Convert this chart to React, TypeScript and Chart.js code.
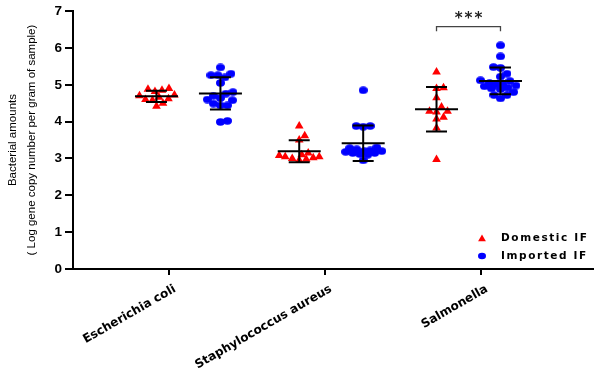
import { useEffect, useRef } from "react";
import { Chart, registerables } from "chart.js";

Chart.register(...registerables);

// ---------------- data ----------------
const categories = ["Escherichia coli", "Staphylococcus aureus", "Salmonella"];
const seriesNames = ["Domestic IF", "Imported IF"];

const domesticEcoli = [4.9, 4.88, 4.85, 4.82, 4.72, 4.7, 4.66, 4.62, 4.6, 4.58, 4.5, 4.42];
const importedEcoli = [5.47, 5.3, 5.26, 5.26, 5.2, 5.05, 4.8, 4.76, 4.7, 4.64, 4.6, 4.58, 4.49, 4.44, 4.44, 4.02, 3.99];

const domesticSaureus = [3.88, 3.62, 3.5, 3.15, 3.1, 3.08, 3.05, 3.05, 3.02, 3.0, 2.98, 2.95];
const importedSaureus = [4.85, 3.88, 3.88, 3.86, 3.3, 3.28, 3.25, 3.22, 3.2, 3.2, 3.18, 3.15, 3.15, 3.12, 3.1, 2.95];

const domesticSalmonella = [5.35, 4.92, 4.9, 4.65, 4.4, 4.28, 4.28, 4.26, 4.12, 4.07, 3.83, 2.97];
const importedSalmonella = [6.07, 5.77, 5.48, 5.46, 5.3, 5.22, 5.12, 5.1, 5.05, 5.02, 5.0, 4.98, 4.96, 4.92, 4.9, 4.88, 4.8, 4.72, 4.72, 4.63];

const domesticValues = [domesticEcoli, domesticSaureus, domesticSalmonella];
const importedValues = [importedEcoli, importedSaureus, importedSalmonella];

const yTicks = [0, 1, 2, 3, 4, 5, 6, 7];
const yTitle = ["Bacterial amounts", "( Log gene copy number per gram of sample)"];
const significanceLabel = "***";
const significantCategory = 2;

// ---------------- layout constants ----------------
const categoryShift = [0.125, 0.04, -0.08];
const seriesOffset = 0.205;
const pxPerX = 156; // approx pixels per x unit (for swarm spacing only)
const pxPerY = 36.9; // approx pixels per y unit (for swarm spacing only)
const swarmDiameter = 7; // px
const swarmMaxSpread = 20; // px
const bracketLevel = 6.58;
const bracketLeg = 0.13;
const starsLevel = 6.86;

const RED = "rgb(255,0,0)";
const BLUE = "rgb(0,0,255)";

function mean(a: number[]) {
  return a.reduce((s, v) => s + v, 0) / a.length;
}
function stdev(a: number[]) {
  const m = mean(a);
  return Math.sqrt(a.reduce((s, v) => s + (v - m) * (v - m), 0) / (a.length - 1));
}

// beeswarm: returns x offsets (in x units) so markers overlap as little as possible
function swarm(values: number[]): number[] {
  const idx = values.map((_, i) => i).sort((a, b) => values[a] - values[b]);
  const placed: { px: number; py: number }[] = [];
  const offsets = new Array(values.length).fill(0);
  for (const k of idx) {
    const py = values[k] * pxPerY;
    let chosen: number | null = null;
    let best = 0;
    let bestDist = -1;
    for (let step = 0; ; step++) {
      const mag = Math.ceil(step / 2) * 0.5;
      if (mag > swarmMaxSpread) break;
      const cand = step % 2 === 1 ? mag : -mag;
      let minD = Infinity;
      for (const p of placed) {
        const dx = p.px - cand;
        const dy = p.py - py;
        minD = Math.min(minD, Math.sqrt(dx * dx + dy * dy));
      }
      if (minD >= swarmDiameter) {
        chosen = cand;
        break;
      }
      if (minD > bestDist + 0.01) {
        bestDist = minD;
        best = cand;
      }
    }
    const px = chosen ?? best;
    placed.push({ px, py });
    offsets[k] = px / pxPerX;
  }
  return offsets;
}

function groupCenter(cat: number, series: number) {
  return cat + 1 + categoryShift[cat] + (series === 0 ? -seriesOffset : seriesOffset);
}

function buildPoints(groups: number[][], series: number) {
  const pts: { x: number; y: number }[] = [];
  groups.forEach((vals, c) => {
    const off = swarm(vals);
    vals.forEach((v, i) => pts.push({ x: groupCenter(c, series) + off[i], y: v }));
  });
  return pts;
}

function ellipseMarker(w: number, h: number, color: string) {
  const c = document.createElement("canvas");
  c.width = Math.ceil(w);
  c.height = Math.ceil(h);
  const g = c.getContext("2d")!;
  g.fillStyle = color;
  g.beginPath();
  g.ellipse(c.width / 2, c.height / 2, w / 2, h / 2, 0, 0, Math.PI * 2);
  g.fill();
  return c;
}

function drawTriangle(ctx: CanvasRenderingContext2D, x: number, y: number, r: number) {
  const a = (2 * Math.PI) / 3;
  ctx.beginPath();
  ctx.moveTo(x, y - r);
  ctx.lineTo(x + Math.sin(a) * r, y - Math.cos(a) * r);
  ctx.lineTo(x + Math.sin(2 * a) * r, y - Math.cos(2 * a) * r);
  ctx.closePath();
  ctx.fill();
}

const overlayPlugin = {
  id: "overlay",
  afterDatasetsDraw(chart: any) {
    const { ctx, scales, chartArea } = chart;
    const x = scales.x;
    const y = scales.y;
    ctx.save();
    // error bars: mean ± SD
    ctx.strokeStyle = "#000";
    ctx.lineWidth = 2;
    const groups = [domesticValues, importedValues];
    groups.forEach((g, s) => {
      g.forEach((vals, c) => {
        const m = mean(vals);
        const sd = stdev(vals);
        const cx = x.getPixelForValue(groupCenter(c, s));
        const pm = y.getPixelForValue(m);
        const pt = y.getPixelForValue(m + sd);
        const pb = y.getPixelForValue(m - sd);
        ctx.beginPath();
        ctx.moveTo(cx - 21.5, pm);
        ctx.lineTo(cx + 21.5, pm);
        ctx.moveTo(cx, pt);
        ctx.lineTo(cx, pb);
        ctx.moveTo(cx - 10.5, pt);
        ctx.lineTo(cx + 10.5, pt);
        ctx.moveTo(cx - 10.5, pb);
        ctx.lineTo(cx + 10.5, pb);
        ctx.stroke();
      });
    });

    // significance bracket
    const bx1 = x.getPixelForValue(groupCenter(significantCategory, 0));
    const bx2 = x.getPixelForValue(groupCenter(significantCategory, 1));
    const by = y.getPixelForValue(bracketLevel);
    const byl = y.getPixelForValue(bracketLevel - bracketLeg);
    ctx.strokeStyle = "#444";
    ctx.lineWidth = 1.3;
    ctx.beginPath();
    ctx.moveTo(bx1, byl);
    ctx.lineTo(bx1, by);
    ctx.lineTo(bx2, by);
    ctx.lineTo(bx2, byl);
    ctx.stroke();
    ctx.fillStyle = "#222";
    ctx.font = "bold 15px 'DejaVu Sans'";
    ctx.textAlign = "center";
    ctx.textBaseline = "middle";
    (ctx as any).letterSpacing = "2px";
    ctx.fillText(significanceLabel, (bx1 + bx2) / 2 + 1, y.getPixelForValue(starsLevel) + 3);

    // legend
    const lx = chartArea.right - 111;
    const ly1 = chartArea.bottom - 31;
    const ly2 = chartArea.bottom - 13;
    ctx.fillStyle = RED;
    drawTriangle(ctx, lx, ly1 + 1, 4.5);
    ctx.fillStyle = BLUE;
    ctx.beginPath();
    ctx.ellipse(lx, ly2, 4, 3.3, 0, 0, Math.PI * 2);
    ctx.fill();
    ctx.fillStyle = "#000";
    ctx.font = "bold 10.5px 'DejaVu Sans'";
    ctx.textAlign = "left";
    (ctx as any).letterSpacing = "1.6px";
    ctx.fillText(seriesNames[0], lx + 19, ly1);
    ctx.fillText(seriesNames[1], lx + 19, ly2);
    (ctx as any).letterSpacing = "0px";
    ctx.restore();
  },
};

export default function App() {
  const ref = useRef<HTMLCanvasElement | null>(null);

  useEffect(() => {
    if (!ref.current) return;
    const blueDot = ellipseMarker(9, 7.4, BLUE);
    const chart = new Chart(ref.current, {
      type: "scatter",
      data: {
        datasets: [
          {
            label: seriesNames[0],
            data: buildPoints(domesticValues, 0),
            pointStyle: "triangle",
            pointRadius: 5,
            backgroundColor: RED,
            borderColor: RED,
            borderWidth: 0,
          },
          {
            label: seriesNames[1],
            data: buildPoints(importedValues, 1),
            pointStyle: blueDot,
            pointRadius: 4.5,
            backgroundColor: BLUE,
            borderColor: BLUE,
            borderWidth: 0,
          },
        ],
      },
      options: {
        animation: false,
        responsive: false,
        devicePixelRatio: 1,
        layout: { padding: { top: 11, right: 7, left: 0, bottom: 0 } },
        plugins: {
          legend: { display: false },
          tooltip: { enabled: false },
        },
        scales: {
          x: {
            type: "linear",
            min: 0.385,
            max: 3.718,
            afterBuildTicks: (s: any) => {
              s.ticks = categories.map((_, i) => ({ value: i + 1 }));
            },
            afterFit: (s: any) => {
              s.height = 108;
            },
            ticks: {
              autoSkip: false,
              minRotation: 30,
              maxRotation: 30,
              color: "#000",
              padding: 7,
              labelOffset: 6,
              font: { family: "'DejaVu Sans'", weight: "bold", size: 12 },
              callback: (v: any) => categories[Math.round(Number(v)) - 1] ?? "",
            },
            grid: { drawOnChartArea: false, drawTicks: true, tickLength: 6, color: "#000", lineWidth: 2 },
            border: { display: true, color: "#000", width: 2 },
          },
          y: {
            min: 0,
            max: 7,
            afterBuildTicks: (s: any) => {
              s.ticks = yTicks.map((v) => ({ value: v }));
            },
            afterFit: (s: any) => {
              s.width = 73;
            },
            ticks: {
              color: "#000",
              padding: 3,
              font: { family: "'Liberation Sans', Arial", weight: "bold", size: 13.5 },
            },
            grid: { drawOnChartArea: false, drawTicks: true, tickLength: 8, color: "#000", lineWidth: 2 },
            border: { display: true, color: "#000", width: 2 },
            title: {
              display: true,
              text: yTitle,
              color: "#000",
              font: { family: "'Liberation Sans Narrow', 'Liberation Sans', Arial", size: 11.5, lineHeight: 1.65 },
              padding: { top: 3, bottom: 0 },
            },
          },
        },
      },
      plugins: [overlayPlugin],
    } as any);
    return () => chart.destroy();
  }, []);

  return (
    <div style={{ position: "fixed", left: 0, top: 0, width: 600, height: 377, background: "#fff" }}>
      <canvas ref={ref} width={600} height={377} style={{ display: "block" }} />
    </div>
  );
}
